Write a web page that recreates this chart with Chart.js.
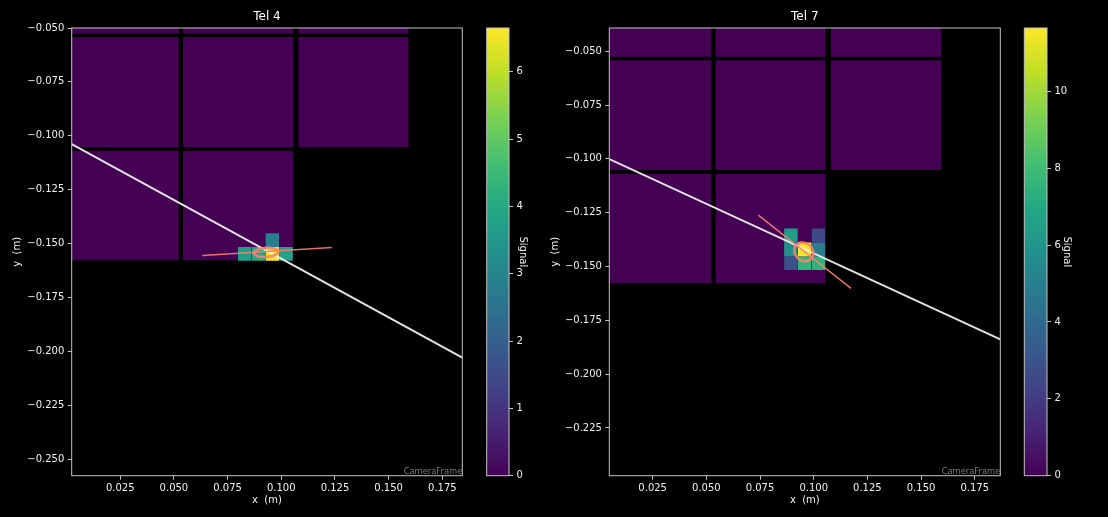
<!DOCTYPE html>
<html><head><meta charset="utf-8">
<script src="https://cdn.jsdelivr.net/npm/chart.js@4.4.1/dist/chart.umd.min.js"></script>
<style>
html,body{margin:0;padding:0;background:#000;width:1108px;height:517px;overflow:hidden;}
.box{position:absolute;top:0;}
canvas{display:block;}
</style></head><body>
<div class="box" style="left:0px"><canvas id="p4" width="480" height="517"></canvas></div>
<div class="box" style="left:480px"><canvas id="c4" width="65" height="517"></canvas></div>
<div class="box" style="left:540px"><canvas id="p7" width="480" height="517"></canvas></div>
<div class="box" style="left:1017px"><canvas id="c7" width="73" height="517"></canvas></div>
<script>
// ---------------- data ----------------
const telescopes = ['Tel 4', 'Tel 7'];
// camera module geometry (m): column x-edges, row y-edges (top, bottom)
const moduleXEdges = [[0.0009, 0.0523], [0.0542, 0.1056], [0.1079, 0.1593]];
const moduleYEdges = [[-0.0015, -0.0526], [-0.0542, -0.1052], [-0.1070, -0.1577]];
const moduleRows = [0, 0, 0, 1, 1, 1, 2, 2];
const moduleCols = [0, 1, 2, 0, 1, 2, 0, 1];
const moduleSignal = 0;
const pixelPitch = 0.0064;
// Tel 4 lit pixels
const tel4PixX = [0.0830, 0.0894, 0.0958, 0.1022, 0.0958];
const tel4PixY = [-0.1548, -0.1548, -0.1548, -0.1548, -0.1484];
const tel4PixSignal = [3.7, 4.0, 6.65, 3.8, 2.8];
// Tel 7 lit pixels
const tel7PixX = [0.0894, 0.1022, 0.0894, 0.0958, 0.1022, 0.0894, 0.0958, 0.1022];
const tel7PixY = [-0.1356, -0.1356, -0.1420, -0.1420, -0.1420, -0.1484, -0.1484, -0.1484];
const tel7PixSignal = [6.4, 2.6, 5.8, 11.65, 4.9, 2.9, 7.6, 7.5];
const signalMax = [6.65, 11.65];
// reconstructed shower axis (white line)
const tel4AxisX = [0.0024, 0.1843];
const tel4AxisY = [-0.1039, -0.2029];
const tel7AxisX = [0.0048, 0.1869];
const tel7AxisY = [-0.1001, -0.1839];
// Hillas major axis (salmon line)
const tel4MajorX = [0.0632, 0.1235];
const tel4MajorY = [-0.1556, -0.1518];
const tel7MajorX = [0.0742, 0.1174];
const tel7MajorY = [-0.1261, -0.1602];
// Hillas ellipses
const hillasX = [0.0930, 0.0954];
const hillasY = [-0.1541, -0.1432];
const hillasLength = [0.0057, 0.0047];
const hillasWidth = [0.0021, 0.0041];
const hillasPsi = [3.7, -38.3];
// axis ranges & ticks
const xRange4 = [0.0024, 0.1843], yRange4 = [-0.2577, -0.0500];
const xRange7 = [0.0048, 0.1869], yRange7 = [-0.2472, -0.0392];
const axisStep = 0.025;
const cbarStep = [1, 2];

// ---------------- helpers ----------------
const FONT = 'DejaVu Sans';
Chart.defaults.font.family = FONT;
Chart.defaults.color = '#f0f0f0';
const TXT = '#f0f0f0';
const viridisStops = ['#440154','#482475','#414487','#355f8d','#2a788e','#21918c','#22a884','#44bf70','#7ad151','#bddf26','#fde725'];
function hex2rgb(h){return [parseInt(h.slice(1,3),16),parseInt(h.slice(3,5),16),parseInt(h.slice(5,7),16)];}
function viridis(t){
  t = Math.max(0, Math.min(1, t));
  const s = t * 10, i = Math.min(9, Math.floor(s)), f = s - i;
  const a = hex2rgb(viridisStops[i]), b = hex2rgb(viridisStops[i+1]);
  const c = a.map((v,k)=>Math.round(v + (b[k]-v)*f));
  return `rgb(${c[0]},${c[1]},${c[2]})`;
}
function rect(x0, x1, yTop, yBot, color, order){
  return {data:[{x:x0,y:yTop},{x:x1,y:yTop}], fill:{value:yBot}, backgroundColor:color,
          borderWidth:0, pointRadius:0, pointHoverRadius:0, order};
}
function buildDatasets(pixX, pixY, pixSig, sMax, axX, axY, mjX, mjY){
  const ds = [];
  moduleRows.forEach((r, i) => {
    const c = moduleCols[i];
    ds.push(rect(moduleXEdges[c][0], moduleXEdges[c][1], moduleYEdges[r][0], moduleYEdges[r][1], viridis(moduleSignal / sMax), 5));
  });
  pixX.forEach((x, i) => {
    const h = pixelPitch / 2;
    ds.push(rect(x - h, x + h, pixY[i] + h, pixY[i] - h, viridis(pixSig[i] / sMax), 4));
  });
  ds.push({data: axX.map((x,i)=>({x, y:axY[i]})), borderColor:'rgba(238,238,238,0.95)', borderWidth:2,
           pointRadius:0, fill:false, order:3});
  ds.push({data: mjX.map((x,i)=>({x, y:mjY[i]})), borderColor:'rgba(250,128,114,0.9)', borderWidth:1.5,
           pointRadius:0, fill:false, order:2});
  return ds;
}
const fmt = v => (v < -1e-9 ? '\u2212' : '') + Math.abs(v).toFixed(3);

const hillasPlugin = {
  id:'hillas',
  afterDatasetsDraw(chart, args, o){
    if (!o || o.cx === undefined) return;
    const xs = chart.scales.x, ys = chart.scales.y, ctx = chart.ctx, a = chart.chartArea;
    const cx = xs.getPixelForValue(o.cx), cy = ys.getPixelForValue(o.cy);
    const rl = Math.abs(xs.getPixelForValue(o.cx + o.length) - cx);
    const rw = Math.abs(ys.getPixelForValue(o.cy + o.width) - cy);
    ctx.save();
    ctx.beginPath(); ctx.rect(a.left, a.top, a.right - a.left, a.bottom - a.top); ctx.clip();
    ctx.beginPath();
    ctx.ellipse(cx, cy, rl, rw, -o.psi * Math.PI / 180, 0, 2 * Math.PI);
    ctx.strokeStyle = 'rgba(250,128,114,0.9)'; ctx.lineWidth = 2.6; ctx.stroke();
    ctx.restore();
  }
};
const framePlugin = {
  id:'frame',
  afterDraw(chart, args, o){
    const a = chart.chartArea, ctx = chart.ctx;
    ctx.save();
    ctx.strokeStyle = '#c4c4c4'; ctx.lineWidth = 1;
    ctx.strokeRect(a.left, a.top, a.right - a.left, a.bottom - a.top);
    if (o && o.label) {
      ctx.fillStyle = '#7a7a7a'; ctx.font = '8.33px "' + FONT + '"';
      ctx.textAlign = 'right'; ctx.textBaseline = 'alphabetic';
      ctx.fillText(o.label, a.right, a.bottom - 1.5);
    }
    ctx.restore();
  }
};

function panel(id, idx, title, xr, yr, datasets, padRight, yAxisW, yTitlePad){
  return new Chart(document.getElementById(id), {
    type:'line',
    data:{datasets},
    plugins:[hillasPlugin, framePlugin],
    options:{
      responsive:false, animation:false, events:[],
      layout:{padding:{left:0, right:padRight, top:0, bottom:0}},
      plugins:{
        legend:{display:false}, tooltip:{enabled:false},
        title:{display:true, text:title, fullSize:false, color:'#ffffff',
               font:{size:12, weight:'normal', family:FONT}, padding:{top:9.8, bottom:3.8}},
        hillas:{cx:hillasX[idx], cy:hillasY[idx], length:hillasLength[idx], width:hillasWidth[idx], psi:hillasPsi[idx]},
        frame:{label:'CameraFrame'}
      },
      scales:{
        x:{type:'linear', min:xr[0], max:xr[1],
           afterFit:s=>{s.height = 41.3;},
           ticks:{stepSize:axisStep, includeBounds:false, color:TXT, font:{size:10}, padding:3, maxRotation:0, autoSkip:false, callback:fmt},
           grid:{display:true, drawOnChartArea:false, drawTicks:true, tickLength:4, color:'#c4c4c4'},
           border:{display:false},
           title:{display:true, text:'x  (m)', color:TXT, font:{size:10}, padding:{top:0, bottom:10.3}}},
        y:{type:'linear', min:yr[0], max:yr[1],
           afterFit:s=>{s.width = yAxisW;},
           ticks:{stepSize:axisStep, includeBounds:false, color:TXT, font:{size:10}, padding:3.4, autoSkip:false, callback:fmt},
           grid:{display:true, drawOnChartArea:false, drawTicks:true, tickLength:4, color:'#c4c4c4'},
           border:{display:false},
           title:{display:true, text:'y  (m)', color:TXT, font:{size:10}, padding:{top:yTitlePad, bottom:0}}}
      }
    }
  });
}

function colorbar(id, max, step, padLeft, axisW, titlePad){
  return new Chart(document.getElementById(id), {
    type:'bar',
    data:{labels:['Signal'], datasets:[{
      data:[[0, max]], borderWidth:0, barPercentage:1, categoryPercentage:1,
      backgroundColor:(c)=>{
        const a = c.chart.chartArea;
        if (!a) return viridis(0);
        const g = c.chart.ctx.createLinearGradient(0, a.bottom, 0, a.top);
        viridisStops.forEach((s,i)=>g.addColorStop(i/10, s));
        return g;
      }}]},
    plugins:[framePlugin],
    options:{
      responsive:false, animation:false, events:[],
      layout:{padding:{left:padLeft, right:0, top:28, bottom:41.3}},
      plugins:{legend:{display:false}, tooltip:{enabled:false}, frame:{label:''}},
      scales:{
        x:{display:false},
        y:{position:'right', min:0, max,
           afterFit:s=>{s.width = axisW;},
           ticks:{stepSize:step, includeBounds:false, color:TXT, font:{size:10}, padding:3.5},
           grid:{display:true, drawOnChartArea:false, drawTicks:true, tickLength:4, color:'#c4c4c4'},
           border:{display:false},
           title:{display:true, text:'Signal', color:TXT, font:{size:10}, padding:{top:titlePad, bottom:0}}}
      }
    }
  });
}

panel('p4', 0, telescopes[0], xRange4, yRange4,
      buildDatasets(tel4PixX, tel4PixY, tel4PixSignal, signalMax[0], tel4AxisX, tel4AxisY, tel4MajorX, tel4MajorY),
      17.7, 71.7, 11);
panel('p7', 1, telescopes[1], xRange7, yRange7,
      buildDatasets(tel7PixX, tel7PixY, tel7PixSignal, signalMax[1], tel7AxisX, tel7AxisY, tel7MajorX, tel7MajorY),
      19.7, 69.3, 9.5);
colorbar('c4', signalMax[0], cbarStep[0], 6.7, 36, 16.5);
colorbar('c7', signalMax[1], cbarStep[1], 7.3, 43, 17.5);
</script>
</body></html>
